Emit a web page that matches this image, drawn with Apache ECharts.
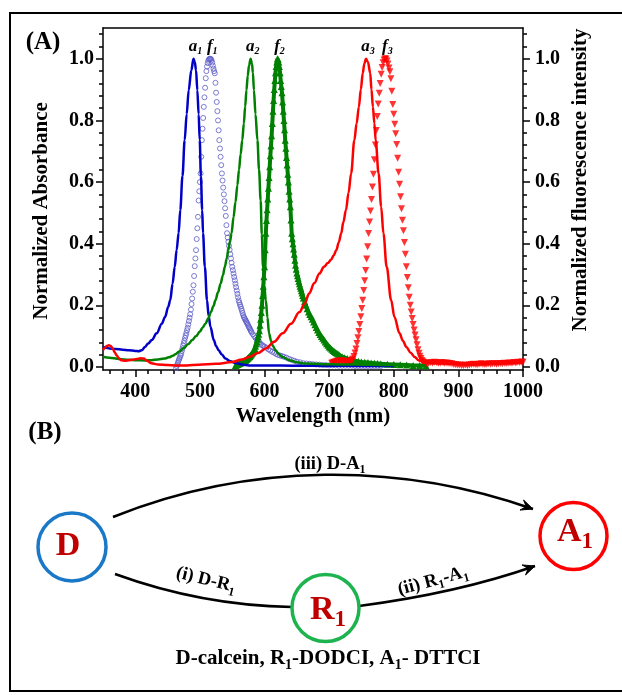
<!DOCTYPE html>
<html><head><meta charset="utf-8">
<script src="https://cdn.jsdelivr.net/npm/echarts@6/dist/echarts.min.js"></script>
<style>html,body{margin:0;padding:0;background:#fff}#c{width:622px;height:695px}</style>
</head><body><div id="c"></div><script>
// ---------- DATA ----------
const xTicks = [400, 500, 600, 700, 800, 900, 1000];
const xMinorTicks = [360,380,400,420,440,460,480,500,520,540,560,580,600,620,640,660,680,700,720,740,760,780,800,820,840,860,880,900,920,940,960,980,1000];
const yTicks = [0, 0.2, 0.4, 0.6, 0.8, 1.0];
const yMinorTicks = [0,0.04,0.08,0.12,0.16,0.2,0.24,0.28,0.32,0.36,0.4,0.44,0.48,0.52,0.56,0.6,0.64,0.68,0.72,0.76,0.8,0.84,0.88,0.92,0.96,1.0,1.04,1.08];

// a1: calcein absorbance (blue line)
const a1Data = [[350,0.065],[355,0.062],[360,0.06],[370,0.058],[380,0.056],[390,0.054],[400,0.052],[405,0.051],[410,0.054],[415,0.065],[420,0.076],[425.5,0.087],[433,0.109],[441,0.14],[446,0.162],[451,0.195],[454,0.216],[457.7,0.27],[461,0.325],[464,0.38],[467,0.434],[469.6,0.509],[473,0.62],[476.4,0.736],[479.5,0.82],[482.6,0.898],[486.7,0.963],[490,1.0],[492,0.99],[494,0.963],[496,0.898],[498,0.82],[499.7,0.736],[501.5,0.62],[503.5,0.509],[504.8,0.434],[507.6,0.325],[511,0.216],[513.5,0.165],[516.3,0.13],[521.5,0.087],[525,0.068],[529,0.054],[534,0.04],[539.6,0.027],[547,0.018],[555,0.013],[565,0.008],[576,0.005],[600,0.005],[650,0.004],[700,0.004],[750,0.003],[800,0.003]];
// f1: calcein fluorescence (open circles)
const f1Data = [[463,-0.004],[464,0.003],[465,0.008],[466,0.014],[467,0.02],[468,0.026],[469,0.031],[470,0.037],[471,0.043],[472,0.052],[473,0.06],[474,0.069],[475,0.077],[476,0.085],[477,0.094],[478,0.102],[479,0.11],[480,0.119],[481,0.127],[482,0.138],[483,0.149],[484,0.16],[485,0.171],[486,0.186],[487,0.204],[488,0.222],[489,0.244],[490,0.265],[491,0.295],[492,0.327],[493,0.352],[494,0.379],[495,0.415],[496,0.45],[497,0.487],[498,0.54],[499,0.57],[500,0.6],[501,0.628],[502,0.682],[503,0.736],[504,0.773],[505,0.808],[506,0.844],[507,0.875],[508,0.906],[509,0.937],[510,0.96],[511,0.975],[512,0.986],[513,0.994],[514,0.998],[515,1.0],[516,1.0],[517,0.999],[518,0.995],[519,0.988],[520,0.978],[521,0.968],[522,0.96],[523,0.953],[524,0.922],[525,0.89],[526,0.86],[527,0.83],[528,0.8],[529,0.768],[530,0.736],[531,0.709],[532,0.682],[533,0.655],[534,0.628],[535,0.605],[536,0.582],[537,0.56],[538,0.538],[539,0.515],[540,0.49],[541,0.46],[542,0.434],[543,0.42],[544,0.406],[545,0.393],[546,0.38],[547,0.366],[548,0.352],[549,0.338],[550,0.325],[551,0.314],[552,0.303],[553,0.292],[554,0.281],[555,0.27],[556,0.259],[557,0.248],[558,0.237],[559,0.226],[560,0.216],[561,0.209],[562,0.202],[563,0.196],[564,0.189],[565,0.182],[566,0.175],[567,0.168],[568,0.162],[569,0.158],[570,0.154],[571,0.15],[572,0.146],[573,0.142],[574,0.138],[575,0.133],[576,0.129],[577,0.125],[578,0.121],[579,0.116],[580,0.112],[582,0.106],[584,0.1],[586,0.094],[588,0.089],[590,0.084],[592,0.08],[594,0.075],[596,0.071],[598,0.068],[600,0.066],[603,0.062],[606,0.057],[609,0.053],[612,0.049],[615,0.046],[618,0.042],[621,0.039],[624,0.037],[627,0.035],[630,0.033],[634,0.03],[638,0.026],[642,0.023],[646,0.02],[650,0.017],[655,0.015],[660,0.012],[665,0.011],[670,0.01],[675,0.009],[680,0.008],[685,0.007],[690,0.006],[695,0.006],[700,0.005],[705,0.005],[710,0.005],[715,0.004],[720,0.004],[725,0.004],[730,0.004],[735,0.004],[740,0.003],[745,0.003],[750,0.003],[755,0.003],[760,0.003],[765,0.003],[770,0.003],[775,0.003],[780,0.003]];
// a2: DODCI absorbance (green line)
const a2Data = [[350,0.033],[360,0.03],[375,0.026],[390,0.023],[400,0.022],[415,0.021],[425,0.022],[435,0.024],[445,0.027],[452,0.031],[458,0.036],[462,0.041],[468,0.05],[475,0.061],[482,0.074],[488,0.087],[494,0.1],[500,0.115],[504,0.127],[508.5,0.14],[513,0.158],[517,0.178],[521,0.198],[524,0.216],[528,0.242],[532,0.27],[535.5,0.297],[538.6,0.325],[541.5,0.352],[544,0.38],[546.5,0.407],[549,0.434],[552,0.486],[555,0.535],[558,0.59],[560.5,0.64],[563,0.69],[565.5,0.736],[568,0.79],[570,0.845],[572,0.898],[574,0.945],[576,0.978],[578.5,1.0],[580.5,0.985],[582,0.955],[583.6,0.898],[586,0.82],[589,0.736],[591.5,0.64],[594,0.54],[595.8,0.43],[597.6,0.325],[599.5,0.265],[602,0.216],[604.5,0.16],[607,0.109],[610,0.085],[613,0.068],[617,0.054],[622,0.042],[628,0.032],[638,0.022],[650,0.015],[664,0.011],[690,0.009],[720,0.008],[760,0.007],[800,0.006],[850,0.005]];
// f2: DODCI fluorescence (green triangles)
const f2Data = [[555,0.005],[556,0.006],[557,0.007],[558,0.008],[559,0.009],[560,0.01],[561,0.011],[562,0.012],[563,0.013],[564,0.014],[565,0.015],[566,0.016],[567,0.017],[568,0.018],[569,0.02],[570,0.021],[571,0.022],[572,0.024],[573,0.026],[574,0.028],[575,0.03],[576,0.032],[577,0.034],[578,0.036],[579,0.039],[580,0.042],[581,0.045],[582,0.048],[583,0.051],[584,0.054],[585,0.06],[586,0.067],[587,0.074],[588,0.082],[589,0.09],[590,0.098],[591,0.106],[592,0.117],[593,0.135],[594,0.155],[595,0.177],[596,0.2],[597,0.232],[598,0.262],[599,0.293],[600,0.325],[601,0.38],[602,0.434],[603,0.475],[604,0.51],[605,0.545],[606,0.58],[607,0.615],[608,0.65],[609,0.685],[610,0.718],[611,0.75],[612,0.79],[613,0.83],[614,0.865],[615,0.9],[616,0.93],[617,0.955],[618,0.975],[619,0.99],[620,1.0],[621,0.998],[622,0.99],[623,0.975],[624,0.955],[625,0.93],[626,0.91],[627,0.89],[628,0.86],[629,0.83],[630,0.8],[631,0.77],[632,0.736],[633,0.71],[634,0.68],[635,0.655],[636,0.625],[637,0.6],[638,0.57],[639,0.545],[640,0.52],[641,0.477],[642,0.434],[643,0.416],[644,0.4],[645,0.383],[646,0.366],[647,0.346],[648,0.33],[649,0.317],[650,0.305],[651,0.296],[652,0.287],[653,0.278],[654,0.27],[655,0.262],[656,0.255],[657,0.247],[658,0.24],[659,0.232],[660,0.224],[662,0.212],[664,0.2],[666,0.189],[668,0.178],[670,0.17],[672,0.163],[674,0.155],[676,0.146],[678,0.137],[680,0.128],[682,0.12],[684,0.112],[686,0.105],[688,0.099],[690,0.093],[692,0.087],[694,0.081],[696,0.075],[698,0.07],[700,0.065],[702,0.061],[704,0.057],[706,0.053],[708,0.05],[710,0.047],[712,0.044],[714,0.041],[716,0.038],[718,0.035],[720,0.033],[724,0.03],[728,0.027],[732,0.024],[736,0.022],[740,0.02],[745,0.018],[750,0.016],[755,0.015],[760,0.014],[765,0.013],[770,0.012],[775,0.011],[780,0.01],[790,0.009],[800,0.008],[810,0.007],[820,0.006],[830,0.005],[840,0.005],[850,0.004]];
// a3: DTTCI absorbance (red line)
const a3Data = [[350,0.055],[353,0.062],[356,0.068],[359,0.07],[362,0.068],[365,0.06],[368,0.048],[371,0.038],[374,0.029],[378,0.022],[385,0.02],[395,0.023],[402,0.026],[408,0.028],[413,0.027],[418,0.02],[425,0.012],[435,0.008],[450,0.006],[462,0.005],[480,0.005],[498,0.007],[525,0.01],[550,0.016],[565,0.024],[576,0.032],[590,0.045],[602,0.06],[615,0.082],[628,0.109],[641,0.14],[654,0.178],[662,0.205],[669,0.238],[677,0.272],[685,0.303],[692,0.325],[698,0.337],[703,0.348],[707,0.362],[711,0.379],[715,0.405],[718.6,0.433],[722,0.47],[726,0.509],[730,0.565],[734,0.628],[739,0.736],[742.5,0.79],[746,0.844],[749,0.9],[752,0.953],[754.5,0.985],[757,1.0],[760,0.99],[763.6,0.953],[765.5,0.9],[767.7,0.844],[770,0.79],[772,0.736],[776.5,0.628],[780.5,0.52],[784,0.433],[789,0.325],[796,0.216],[801,0.162],[809,0.109],[814,0.085],[819.5,0.065],[826,0.046],[832.5,0.032],[838,0.022],[845,0.016],[852,0.013],[860,0.012],[870,0.011],[880,0.011],[890,0.01],[900,0.009],[910,0.008],[920,0.007],[930,0.008],[940,0.009],[950,0.01],[960,0.01],[970,0.011],[980,0.012],[990,0.013],[1000,0.014]];
// f3: DTTCI fluorescence (red inverted triangles)
const f3Data = [[704,0.012],[705.5,0.013],[707,0.015],[708.5,0.014],[710,0.016],[711.5,0.018],[713,0.017],[714.5,0.016],[716,0.018],[717.5,0.02],[719,0.019],[720.5,0.018],[722,0.017],[723.5,0.018],[725,0.017],[726.5,0.016],[728,0.015],[729.5,0.016],[731,0.017],[732.5,0.018],[734,0.02],[735.5,0.022],[737,0.026],[738.5,0.034],[740,0.045],[741.5,0.058],[743,0.076],[744.5,0.095],[746,0.115],[747.5,0.138],[749,0.163],[750.5,0.19],[752,0.216],[753.5,0.248],[755,0.28],[756.5,0.313],[758,0.35],[759.5,0.39],[761,0.433],[762.5,0.47],[764,0.506],[765.5,0.543],[767,0.584],[768.5,0.625],[770,0.672],[771.5,0.72],[773,0.767],[774.5,0.813],[776,0.853],[777.5,0.888],[779,0.92],[780.5,0.95],[782,0.972],[783.5,0.987],[785,0.996],[786.5,1.0],[788,0.999],[789.5,0.993],[791,0.983],[792.5,0.97],[794,0.958],[795.5,0.935],[797,0.895],[798.5,0.852],[800,0.82],[801.5,0.788],[803,0.757],[804.5,0.722],[806,0.677],[807.5,0.632],[809,0.593],[810.5,0.552],[812,0.513],[813.5,0.476],[815,0.442],[816.5,0.404],[818,0.366],[819.5,0.325],[821,0.29],[822.5,0.257],[824,0.226],[825.5,0.2],[827,0.178],[828.5,0.157],[830,0.138],[831.5,0.12],[833,0.104],[834.5,0.088],[836,0.072],[837.5,0.056],[839,0.044],[840.5,0.035],[842,0.027],[843.5,0.021],[845,0.017],[846.5,0.014],[848,0.012],[849.5,0.011],[851,0.01],[854,0.012],[857,0.014],[860,0.013],[863,0.015],[866,0.014],[869,0.012],[872,0.013],[875,0.014],[878,0.012],[881,0.013],[884,0.012],[887,0.011],[890,0.01],[893,0.008],[896,0.007],[899,0.006],[902,0.006],[905,0.005],[908,0.005],[911,0.006],[914,0.005],[917,0.006],[920,0.008],[923,0.009],[926,0.008],[929,0.007],[932,0.009],[935,0.01],[938,0.009],[941,0.008],[944,0.009],[947,0.01],[950,0.009],[953,0.01],[956,0.01],[959,0.009],[962,0.01],[965,0.011],[968,0.01],[971,0.012],[974,0.011],[977,0.012],[980,0.013],[983,0.012],[986,0.014],[989,0.013],[992,0.015],[995,0.014],[998,0.016],[1000,0.015]];

// Peak annotations
const peakLabels = [
  {main: 'a', sub: '1', wl: 490},
  {main: 'f', sub: '1', wl: 516},
  {main: 'a', sub: '2', wl: 578.5},
  {main: 'f', sub: '2', wl: 620},
  {main: 'a', sub: '3', wl: 757},
  {main: 'f', sub: '3', wl: 787}
];

// ---------- CHART ----------
const SERIF = '"Liberation Serif","Times New Roman",serif';
const BLUE = '#0000c8', LBLUE = '#5c5cc8', GREEN = '#008000', RED = '#ff0000';
const chart = echarts.init(document.getElementById('c'), null, {renderer: 'canvas'});

const lineAx = {show: true, onZero: false, lineStyle: {color: '#000', width: 1.5}};
const tickStyle = {color: '#000', width: 1.5};
const lblStyle = {fontFamily: SERIF, fontWeight: 'bold', fontSize: 20, color: '#000'};

function yMain(pos, margin) {
  return {type: 'value', position: pos, min: -0.01, max: 1.1,
    axisLine: lineAx,
    axisTick: {show: true, inside: false, length: 7, customValues: yTicks, lineStyle: tickStyle},
    axisLabel: Object.assign({customValues: yTicks, margin: margin, formatter: v => v.toFixed(1)}, lblStyle),
    splitLine: {show: false}};
}
function yMinor(pos) {
  return {type: 'value', position: pos, min: -0.01, max: 1.1,
    axisLine: {show: false, onZero: false},
    axisTick: {show: true, inside: false, length: 4, customValues: yMinorTicks, lineStyle: tickStyle},
    axisLabel: {show: false}, splitLine: {show: false}};
}

chart.setOption({
  animation: false,
  backgroundColor: '#fff',
  grid: {left: 103, right: 99, top: 28, bottom: 325, containLabel: false, outerBoundsMode: 'none'},
  xAxis: [
    {type: 'value', position: 'bottom', min: 350, max: 1000,
      axisLine: lineAx,
      axisTick: {show: true, inside: false, length: 7, customValues: xTicks, lineStyle: tickStyle},
      axisLabel: Object.assign({customValues: xTicks, margin: 12, formatter: v => String(v)}, lblStyle),
      splitLine: {show: false}},
    {type: 'value', position: 'bottom', min: 350, max: 1000,
      axisLine: {show: false, onZero: false},
      axisTick: {show: true, inside: false, length: 4, customValues: xMinorTicks, lineStyle: tickStyle},
      axisLabel: {show: false}, splitLine: {show: false}},
    {type: 'value', position: 'top', min: 350, max: 1000,
      axisLine: lineAx, axisTick: {show: false}, axisLabel: {show: false}, splitLine: {show: false}}
  ],
  yAxis: [yMain('left', 9), yMain('right', 12), yMinor('left'), yMinor('right')],
  series: [
    {name: 'f1', type: 'scatter', xAxisIndex: 0, yAxisIndex: 1, data: f1Data, symbol: 'circle', symbolSize: 5,
      itemStyle: {color: 'rgba(0,0,0,0)', borderColor: LBLUE, borderWidth: 1}, z: 2},
    {name: 'f2', type: 'line', xAxisIndex: 0, yAxisIndex: 1, data: f2Data, symbol: 'triangle', symbolSize: 7,
      showSymbol: true, showAllSymbol: true, lineStyle: {color: GREEN, width: 4}, itemStyle: {color: GREEN, borderWidth: 0}, z: 2},
    {name: 'f3', type: 'scatter', xAxisIndex: 0, yAxisIndex: 1, data: f3Data, symbol: 'triangle', symbolRotate: 180, symbolSize: 7,
      itemStyle: {color: RED}, z: 2},
    {name: 'a1', type: 'line', xAxisIndex: 0, yAxisIndex: 0, data: a1Data, showSymbol: false, smooth: 0.35, smoothMonotone: 'x',
      lineStyle: {color: BLUE, width: 2.5}, z: 3},
    {name: 'a2', type: 'line', xAxisIndex: 0, yAxisIndex: 0, data: a2Data, showSymbol: false, smooth: 0.35, smoothMonotone: 'x',
      lineStyle: {color: GREEN, width: 2.5}, z: 3},
    {name: 'a3', type: 'line', xAxisIndex: 0, yAxisIndex: 0, data: a3Data, showSymbol: false, smooth: 0.35, smoothMonotone: 'x',
      lineStyle: {color: RED, width: 2.5}, z: 3}
  ]
});

// ---------- ANNOTATIONS / PANEL B ----------
const g = [];
const mctx = document.createElement('canvas').getContext('2d');
function fontStr(size, italic) { return (italic ? 'italic ' : '') + 'bold ' + size + 'px ' + SERIF; }
function measure(s, size, italic) { mctx.font = fontStr(size, italic); return mctx.measureText(s).width; }
function txt(x, y, text, opt) {
  const o = Object.assign({type: 'text', x: x, y: y, z: 100,
    style: Object.assign({text: text, align: 'center', verticalAlign: 'middle', fill: '#000',
      fontFamily: SERIF, fontWeight: 'bold', fontSize: 20}, opt && opt.style || {})}, opt && opt.el || {});
  g.push(o);
}
// text made of normal and subscript pieces, centred on (x, y)
function subText(x, y, parts, o) {
  const mS = o.main, sS = o.sub, dy = o.dy, col = o.color || '#000', it = !!o.italic;
  const widths = parts.map(p => measure(p[0], p[1] ? sS : mS, it));
  const total = widths.reduce((a, b) => a + b, 0);
  let cx = -total / 2;
  const children = parts.map((p, i) => {
    const el = {type: 'text', x: cx, y: p[1] ? dy : 0,
      style: {text: p[0], align: 'left', verticalAlign: 'middle', fill: col, fontFamily: SERIF,
        fontWeight: 'bold', fontStyle: it ? 'italic' : 'normal', fontSize: p[1] ? sS : mS}};
    cx += widths[i];
    return el;
  });
  g.push({type: 'group', x: x, y: y, rotation: o.rotation || 0, z: 100, children: children});
}
// frame
g.push({type: 'polyline', shape: {points: [[630, 13], [10, 13], [10, 691], [630, 691]]}, style: {stroke: '#000', lineWidth: 2, fill: null}});
// panel labels
txt(43, 43, '(A)', {style: {fontSize: 25}});
txt(45, 433, '(B)', {style: {fontSize: 25}});
// axis titles
txt(313, 417, 'Wavelength (nm)', {style: {fontSize: 21}});
txt(42, 211, 'Normalized Absorbance', {style: {fontSize: 21}, el: {rotation: Math.PI / 2}});
txt(581, 180, 'Normalized fluorescence intensity', {style: {fontSize: 21}, el: {rotation: Math.PI / 2}});
// peak labels
peakLabels.forEach(p => {
  const pt = chart.convertToPixel({xAxisIndex: 0, yAxisIndex: 0}, [p.wl, 1.0]);
  subText(pt[0] + 2, pt[1] - 12, [[p.main, false], [p.sub, true]], {main: 17, sub: 10, dy: 5, italic: true});
});
// nodes
const nodes = [
  {cx: 72, cy: 547, r: 34, color: '#1a78c8', main: 'D', sub: '', tx: 68, ty: 546},
  {cx: 325.5, cy: 608, r: 33.5, color: '#1db34f', main: 'R', sub: '1', tx: 328, ty: 610},
  {cx: 573.5, cy: 536, r: 33.5, color: '#ff0000', main: 'A', sub: '1', tx: 575, ty: 532}
];
nodes.forEach(n => {
  g.push({type: 'circle', shape: {cx: n.cx, cy: n.cy, r: n.r}, style: {fill: null, stroke: n.color, lineWidth: 3.5}, z: 50});
  const parts = [[n.main, false]];
  if (n.sub) parts.push([n.sub, true]);
  subText(n.tx, n.ty, parts, {main: 34, sub: 23, dy: 10, color: '#c00000'});
});
// arrows
function curve(x1, y1, c1x, c1y, c2x, c2y, x2, y2, head) {
  g.push({type: 'bezierCurve', shape: {x1: x1, y1: y1, cpx1: c1x, cpy1: c1y, cpx2: c2x, cpy2: c2y, x2: x2, y2: y2},
    style: {stroke: '#000', lineWidth: 2.5, fill: null}, z: 40});
  if (head) {
    const a = Math.atan2(y2 - c2y, x2 - c2x), L = 13, w = 0.42;
    const p1 = [x2 - L * Math.cos(a - w), y2 - L * Math.sin(a - w)];
    const p2 = [x2 - L * Math.cos(a + w), y2 - L * Math.sin(a + w)];
    const pm = [x2 - 0.55 * L * Math.cos(a), y2 - 0.55 * L * Math.sin(a)];
    g.push({type: 'polygon', shape: {points: [[x2, y2], p1, pm, p2]}, style: {fill: '#000', stroke: '#000', lineWidth: 1}, z: 41});
  }
}
curve(113, 517, 250, 462, 400, 462, 533, 509, true);
curve(115, 574, 170, 594, 228, 606, 292, 607, false);
curve(359, 606, 420, 598, 478, 586, 535, 566, true);
const sm = {main: 18.5, sub: 12, dy: 6};
subText(330, 464, [['(iii) D-A', false], ['1', true]], sm);
subText(206, 580, [['(i) D-R', false], ['1', true]], Object.assign({rotation: -0.24}, sm));
subText(433, 581, [['(ii) R', false], ['1', true], ['-A', false], ['1', true]], Object.assign({rotation: 0.26}, sm));
subText(328, 659, [['D-calcein, R', false], ['1', true], ['-DODCI, A', false], ['1', true], ['- DTTCI', false]], {main: 21, sub: 14, dy: 6});

chart.setOption({graphic: g});
</script></body></html>
